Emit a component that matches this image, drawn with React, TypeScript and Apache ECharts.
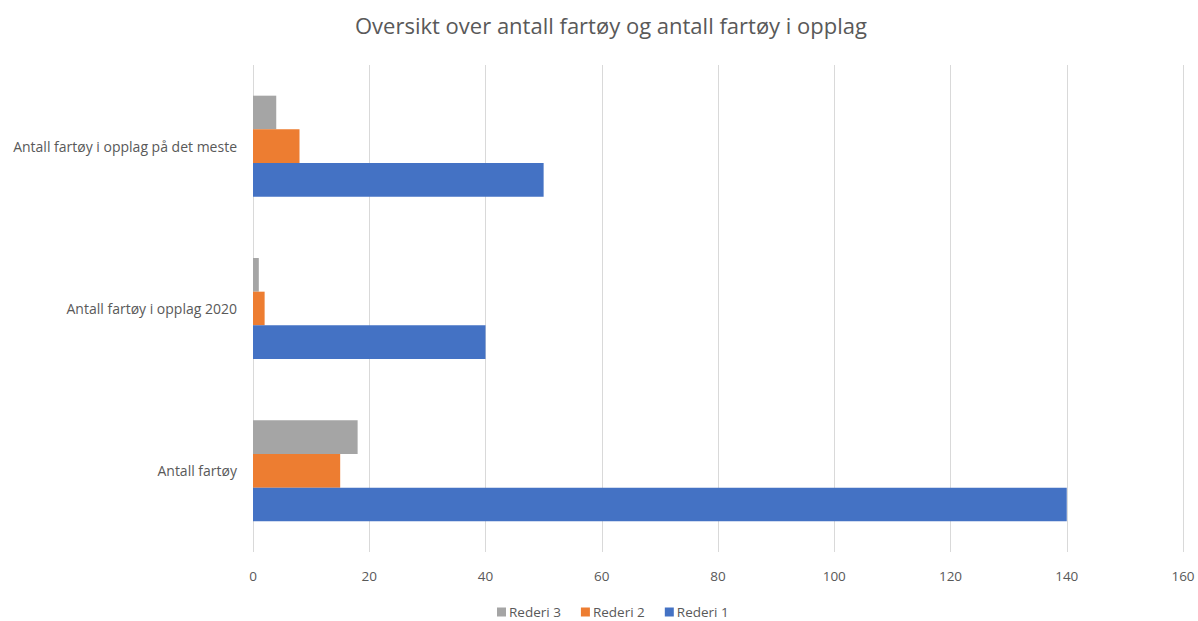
import React, { useEffect, useRef } from "react";
import * as echarts from "echarts";

const categories = ["Antall fartøy", "Antall fartøy i opplag 2020", "Antall fartøy i opplag på det meste"];
const rederi1 = [140, 40, 50];
const rederi2 = [15, 2, 8];
const rederi3 = [18, 1, 4];
const xTicks = [0, 20, 40, 60, 80, 100, 120, 140, 160];

const FONT = "'Open Sans', Lato, sans-serif";
const TXT = "#595959";

export default function App() {
  const ref = useRef<HTMLDivElement>(null);
  useEffect(() => {
    if (!ref.current) return;
    const chart = echarts.init(ref.current, null, { renderer: "svg" });
    chart.setOption({
      animation: false,
      textStyle: { fontFamily: FONT },
      title: {
        text: "Oversikt over antall fartøy og antall fartøy i opplag",
        left: 350,
        top: 9,
        textStyle: { fontFamily: FONT, fontSize: 22, fontWeight: "normal", color: TXT },
      },
      legend: {
        bottom: -3,
        left: 492,
        itemWidth: 9,
        itemHeight: 9,
        itemGap: 20,
        icon: "rect",
        textStyle: { fontFamily: FONT, fontSize: 13.5, color: TXT, padding: [0, 0, 0, -2] },
        data: ["Rederi 3", "Rederi 2", "Rederi 1"],
      },
      grid: { left: 253, right: 15, top: 65, bottom: 69, containLabel: false },
      xAxis: {
        type: "value",
        min: xTicks[0],
        max: xTicks[xTicks.length - 1],
        interval: 20,
        axisLine: { show: false },
        axisTick: { show: false },
        axisLabel: { color: TXT, fontSize: 13.5, fontFamily: FONT, margin: 17 },
        splitLine: { show: true, lineStyle: { color: "#d9d9d9", width: 1 } },
      },
      yAxis: {
        type: "category",
        data: categories,
        axisLine: { show: false },
        axisTick: { show: false },
        axisLabel: { color: TXT, fontSize: 14, fontFamily: FONT, margin: 16 },
      },
      series: [
        { name: "Rederi 3", type: "bar", data: rederi3, itemStyle: { color: "#a5a5a5" }, barGap: "0%", barCategoryGap: "37.8%" },
        { name: "Rederi 2", type: "bar", data: rederi2, itemStyle: { color: "#ed7d31" }, barGap: "0%", barCategoryGap: "37.8%" },
        { name: "Rederi 1", type: "bar", data: rederi1, itemStyle: { color: "#4472c4" }, barGap: "0%", barCategoryGap: "37.8%" },
      ],
    });
    return () => chart.dispose();
  }, []);
  return <div ref={ref} style={{ width: 1198, height: 621, position: "absolute", left: 0, top: 0 }} />;
}
